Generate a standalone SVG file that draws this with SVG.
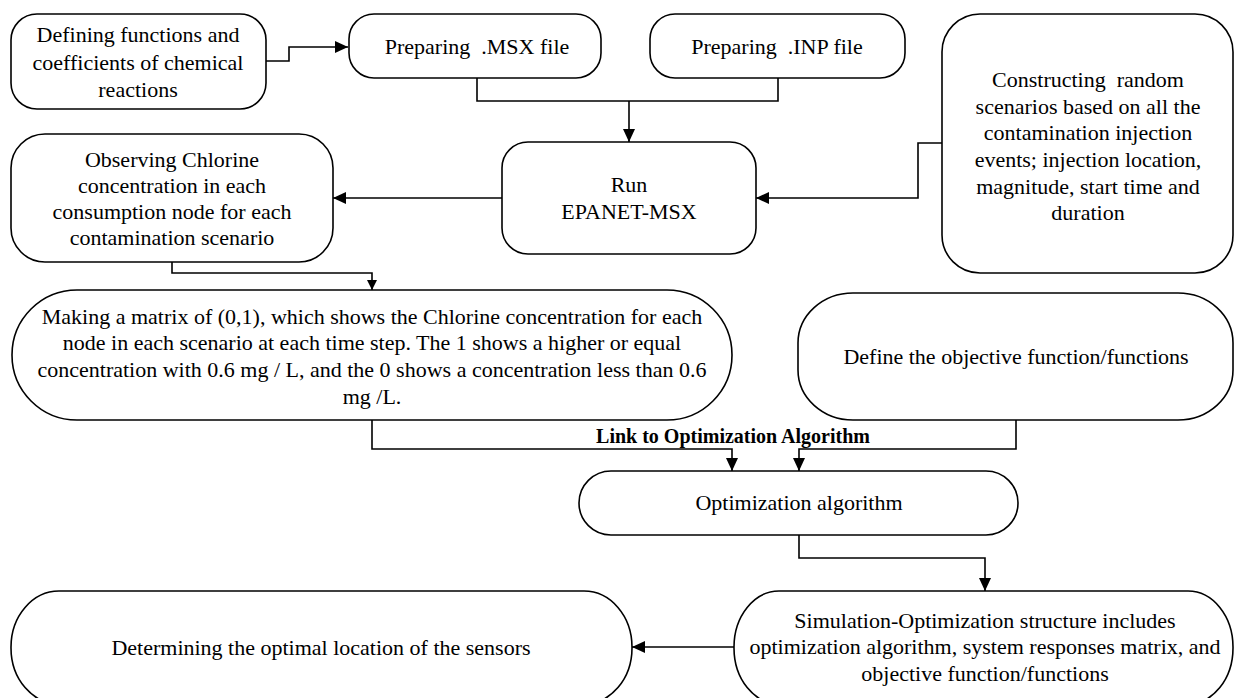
<svg xmlns="http://www.w3.org/2000/svg" width="1235" height="698" viewBox="0 0 1235 698">
<style>
.box{fill:#fff;stroke:#000;stroke-width:1.6}
.t{font-family:"Liberation Serif","Times New Roman",serif;font-size:22px;fill:#000;text-anchor:middle;white-space:pre}
.lb{font-family:"Liberation Serif","Times New Roman",serif;font-size:20px;font-weight:bold;fill:#000;text-anchor:middle}
.c{fill:none;stroke:#000;stroke-width:1.6}
</style>
<defs>
<marker id="ah" markerUnits="userSpaceOnUse" markerWidth="14" markerHeight="12" refX="13" refY="6" orient="auto">
<path d="M0,0 L13,6 L0,12 z" fill="#000"/>
</marker>
<marker id="ahs" markerUnits="userSpaceOnUse" markerWidth="11" markerHeight="10" refX="10" refY="5" orient="auto">
<path d="M0,0 L10,5 L0,10 z" fill="#000"/>
</marker>
</defs>
<rect width="1235" height="698" fill="#fff"/>
<g id="connectors">
<path class="c" d="M266,61 H289 V47 H348" marker-end="url(#ah)"/>
<path class="c" d="M477,78 V101 H778 V78"/>
<path class="c" d="M629,101 V142" marker-end="url(#ah)"/>
<path class="c" d="M942,143 H918 V198 H756" marker-end="url(#ah)"/>
<path class="c" d="M502,198 H333" marker-end="url(#ah)"/>
<path class="c" d="M172,262 V273 H372 V290" marker-end="url(#ahs)"/>
<path class="c" d="M372,420 V449 H732 V471" marker-end="url(#ah)"/>
<path class="c" d="M1016,420 V449 H799 V471" marker-end="url(#ah)"/>
<path class="c" d="M799,535 V558 H985 V591" marker-end="url(#ah)"/>
<path class="c" d="M734,647 H632" marker-end="url(#ah)"/>
<text class="lb" x="733" y="443">Link to Optimization Algorithm</text>
</g>
<g id="n-define-reactions">
<rect class="box" x="11" y="14" width="255" height="95" rx="26"/>
<text class="t" x="138" y="42">Defining functions and</text>
<text class="t" x="138" y="70">coefficients of chemical</text>
<text class="t" x="138" y="97">reactions</text>
</g>
<g id="n-msx">
<rect class="box" x="349" y="14" width="252" height="64" rx="25"/>
<text class="t" x="477" y="54">Preparing  .MSX file</text>
</g>
<g id="n-inp">
<rect class="box" x="650" y="14" width="255" height="64" rx="25"/>
<text class="t" x="777" y="54">Preparing  .INP file</text>
</g>
<g id="n-scenarios">
<rect class="box" x="942" y="14" width="291" height="259" rx="38"/>
<text class="t" x="1088" y="87">Constructing  random</text>
<text class="t" x="1088" y="114">scenarios based on all the</text>
<text class="t" x="1088" y="140">contamination injection</text>
<text class="t" x="1088" y="167">events; injection location,</text>
<text class="t" x="1088" y="194">magnitude, start time and</text>
<text class="t" x="1088" y="220">duration</text>
</g>
<g id="n-run">
<rect class="box" x="502" y="142" width="254" height="112" rx="26"/>
<text class="t" x="629" y="192">Run</text>
<text class="t" x="629" y="219">EPANET-MSX</text>
</g>
<g id="n-observe">
<rect class="box" x="11" y="134" width="322" height="128" rx="34"/>
<text class="t" x="172" y="167">Observing Chlorine</text>
<text class="t" x="172" y="193">concentration in each</text>
<text class="t" x="172" y="219">consumption node for each</text>
<text class="t" x="172" y="245">contamination scenario</text>
</g>
<g id="n-matrix">
<rect class="box" x="12" y="290" width="720" height="130" rx="65" ry="65"/>
<text class="t" x="372" y="324">Making a matrix of (0,1), which shows the Chlorine concentration for each</text>
<text class="t" x="372" y="350">node in each scenario at each time step. The 1 shows a higher or equal</text>
<text class="t" x="372" y="377">concentration with 0.6 mg / L, and the 0 shows a concentration less than 0.6</text>
<text class="t" x="372" y="404">mg /L.</text>
</g>
<g id="n-objective">
<rect class="box" x="798" y="293" width="435" height="127" rx="55" ry="50"/>
<text class="t" x="1016" y="364">Define the objective function/functions</text>
</g>
<g id="n-optimization">
<rect class="box" x="579" y="471" width="439" height="64" rx="32" ry="32"/>
<text class="t" x="799" y="510">Optimization algorithm</text>
</g>
<g id="n-simopt">
<rect class="box" x="734" y="591" width="499" height="113" rx="45" ry="56"/>
<text class="t" x="985" y="628">Simulation-Optimization structure includes</text>
<text class="t" x="985" y="654">optimization algorithm, system responses matrix, and</text>
<text class="t" x="985" y="681">objective function/functions</text>
</g>
<g id="n-sensors">
<rect class="box" x="11" y="591" width="621" height="113" rx="48" ry="56"/>
<text class="t" x="321" y="655">Determining the optimal location of the sensors</text>
</g>
</svg>
